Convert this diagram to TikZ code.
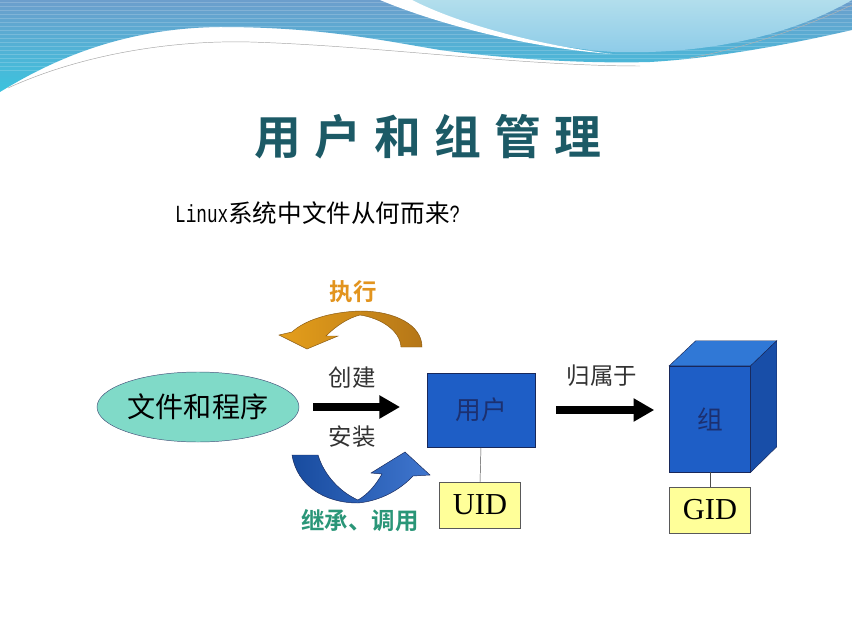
\documentclass[tikz,border=0pt]{standalone}
\usepackage{fontspec}
\setmainfont{Noto Sans CJK SC}[BoldFont={Noto Sans CJK SC Bold}]
\newfontfamily\titlefont{Noto Sans CJK SC Bold}[LetterSpace=28]
\newfontfamily\latinserif{Liberation Serif}
\newfontfamily\latinmono{Liberation Mono}[FakeStretch=0.72]
\usetikzlibrary{arrows.meta, shapes.geometric}
\definecolor{bandtop}{RGB}{108,158,204}
\definecolor{bandbot}{RGB}{58,196,222}
\definecolor{skytop}{RGB}{178,222,236}
\definecolor{skybot}{RGB}{140,203,232}
\definecolor{titleteal}{RGB}{28,90,102}
\definecolor{ellfill}{RGB}{128,218,200}
\definecolor{boxblue}{RGB}{30,94,198}
\definecolor{boxdark}{RGB}{24,40,90}
\definecolor{cubetop}{RGB}{48,120,214}
\definecolor{cubeside}{RGB}{24,78,168}
\definecolor{idyellow}{RGB}{255,255,153}
\definecolor{execorange}{RGB}{226,148,30}
\definecolor{inhgreen}{RGB}{42,150,120}
\definecolor{labelgray}{RGB}{50,50,50}
\definecolor{txtblue}{RGB}{28,48,112}

\begin{document}
\begin{tikzpicture}[x=0.03cm, y=-0.03cm,
    idbox/.style={draw=gray!70!black, fill=idyellow, minimum width=2.43cm, minimum height=1.38cm, font=\latinserif\fontsize{26}{30}\selectfont},
    bluebox/.style={draw=boxdark, fill=boxblue, text=txtblue, font=\fontsize{22}{26}\selectfont},
    bigarrow/.style={line width=6pt, -{Triangle[length=0.62cm, width=0.66cm]}},
    lbl/.style={text=labelgray, font=\fontsize{20}{24}\selectfont}]
    \useasboundingbox (0,0) rectangle (852,627);
    \fill[white] (0,0) rectangle (852,627);
    \begin{scope}
        \clip (0,0) -- (852,0) -- (852,30) .. controls (800,42) and (720,58) .. (650,62)
            .. controls (580,64) and (500,58) .. (440,50) .. controls (380,40) and (320,27) .. (220,27)
            .. controls (130,28) and (60,55) .. (0,92) -- cycle;
        \shade[top color=bandtop, bottom color=bandbot] (0,0) rectangle (852,95);
        \foreach \s in {2,6,...,70}
            \draw[white, opacity=0.18, line width=0.5pt] (0,\s) -- (852,\s);
    \end{scope}
    \shade[top color=skytop, bottom color=skybot] (395,0) .. controls (450,22) and (540,48) .. (615,52)
        .. controls (720,55) and (800,30) .. (852,0) -- cycle;
    \fill[white] (380,0) .. controls (440,25) and (530,48) .. (612,54)
        .. controls (530,44) and (455,22) .. (412,0) -- cycle;
    \draw[gray!70, thin] (8,88) .. controls (80,55) and (170,40) .. (250,42)
        .. controls (380,46) and (520,66) .. (640,66);
    \draw[gray!60, thin] (690,58) .. controls (760,45) and (820,20) .. (852,5);

    \node (title) at (428,137) {\titlefont\fontsize{40}{46}\selectfont\color{titleteal}用户和组管理};
    \node[anchor=west] (question) at (171,213) {\fontsize{21}{25}\selectfont\latinmono Linux\normalfont 系统中文件从何而来\latinmono ?};

    \node[ellipse, inner sep=0pt, draw=boxdark!80, fill=ellfill, minimum width=6.06cm, minimum height=2.1cm, font=\fontsize{24}{28}\selectfont] (files) at (198,407) {文件和程序};
    \node[bluebox, minimum width=3.24cm, minimum height=2.22cm] (user) at (481,410) {用户};
    \node[idbox] (uid) at (480,505) {UID};
    \node[bluebox, minimum width=2.43cm, minimum height=3.18cm] (group) at (710,419) {组};
    \node[idbox] (gid) at (710,510) {GID};
    \fill[cubetop, draw=boxdark] (group.north west) -- (group.north east) -- ++(26,-25) -- ++(-81,0) -- cycle;
    \fill[cubeside, draw=boxdark] (group.north east) -- ++(26,-25) -- ++(0,106) -- (group.south east) -- cycle;

    \draw[bigarrow, shorten <=0.42cm, shorten >=0.8cm] (files.east) -- (files.east -| user.west);
    \draw[bigarrow, shorten <=0.63cm, shorten >=0.45cm] (user.east) -- (user.east -| group.west);
    \draw[gray!60!black] (user.south) -- (uid.north);
    \draw[gray!60!black] (group.south) -- (gid.north);

    \node[lbl] (create) at (352,378) {创建};
    \node[lbl] (install) at (352,437) {安装};
    \node[lbl] (belong) at (602,376) {归属于};

    \shade[left color=execorange!90!yellow, right color=execorange!80!black, draw=execorange!60!black]
        (422,347) .. controls (422,325) and (395,311) .. (360,311)
        .. controls (330,312) and (305,320) .. (292,332) -- (279,335) -- (307,349) -- (338,336) -- (326,336)
        .. controls (336,326) and (348,318) .. (360,315)
        .. controls (380,318) and (400,330) .. (401,347) -- cycle;
    \node[text=execorange, font=\bfseries\fontsize{20}{24}\selectfont] (exec) at (353,292) {执行};

    \shade[left color=boxblue!80!black, right color=boxblue!85!white, draw=boxdark]
        (292,455) .. controls (297,486) and (325,503) .. (358,503)
        .. controls (380,501) and (400,490) .. (413,476) -- (430,475) -- (405,452) -- (371,473) -- (382,474)
        .. controls (375,486) and (368,494) .. (358,500)
        .. controls (340,492) and (324,475) .. (318,455) -- cycle;
    \node[text=inhgreen, font=\bfseries\fontsize{20}{24}\selectfont] (inherit) at (360,521) {继承、调用};
\end{tikzpicture}
\end{document}
